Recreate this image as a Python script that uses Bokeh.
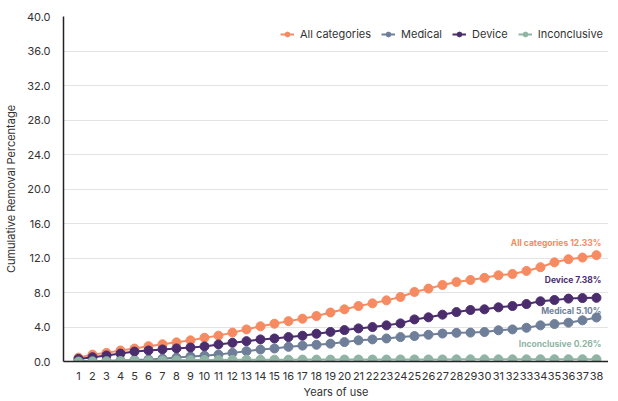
from bokeh.plotting import figure
from bokeh.models import ColumnDataSource, FixedTicker, NumeralTickFormatter, Range1d, Legend, LegendItem
from bokeh.core.properties import value
from bokeh.embed import file_html
from bokeh.resources import INLINE

years = list(range(1, 39))

all_categories = [0.45, 0.80, 1.00, 1.28, 1.50, 1.78, 2.00, 2.22, 2.45, 2.75,
                  3.00, 3.35, 3.72, 4.08, 4.38, 4.68, 4.96, 5.27, 5.68, 6.05,
                  6.43, 6.74, 7.09, 7.48, 8.06, 8.45, 8.87, 9.22, 9.45, 9.70,
                  10.00, 10.15, 10.50, 10.93, 11.50, 11.86, 12.05, 12.33]
medical = [0.02, 0.05, 0.08, 0.12, 0.16, 0.23, 0.33, 0.45, 0.58, 0.68,
           0.81, 1.00, 1.20, 1.38, 1.51, 1.70, 1.84, 1.94, 2.07, 2.25,
           2.45, 2.56, 2.67, 2.83, 2.95, 3.10, 3.24, 3.32, 3.35, 3.42,
           3.62, 3.72, 3.91, 4.19, 4.34, 4.50, 4.77, 5.10]
device = [0.30, 0.50, 0.70, 0.92, 1.15, 1.28, 1.40, 1.52, 1.62, 1.75,
          1.98, 2.17, 2.36, 2.56, 2.67, 2.83, 2.99, 3.22, 3.43, 3.64,
          3.84, 3.99, 4.19, 4.42, 4.88, 5.12, 5.43, 5.73, 5.97, 6.05,
          6.28, 6.43, 6.66, 6.98, 7.13, 7.29, 7.35, 7.38]
inconclusive = [0.00, 0.02, 0.04, 0.06, 0.08, 0.10, 0.12, 0.14, 0.16, 0.17,
                0.18, 0.19, 0.20, 0.20, 0.21, 0.21, 0.22, 0.22, 0.22, 0.23,
                0.23, 0.23, 0.23, 0.24, 0.24, 0.24, 0.24, 0.25, 0.25, 0.25,
                0.25, 0.25, 0.25, 0.26, 0.26, 0.26, 0.26, 0.26]

series_names = ["All categories", "Medical", "Device", "Inconclusive"]
series_values = [all_categories, medical, device, inconclusive]
series_colors = ["#F68B62", "#6F7F99", "#4B2D6E", "#90B4A4"]
end_label_offsets = [-12, -7, -18, -15]

y_ticks = [0, 4, 8, 12, 16, 20, 24, 28, 32, 36, 40]

FONT = "Inter"

p = figure(output_backend="svg", toolbar_location=None,
           frame_width=545, frame_height=345,
           min_border_left=57, min_border_top=16, min_border_right=0, min_border_bottom=10,
           x_range=Range1d(-0.07, 38.86), y_range=Range1d(0, 40))
p.outline_line_color = None
p.background_fill_color = "white"

items = []
for name, vals, color in zip(series_names, series_values, series_colors):
    src = ColumnDataSource(dict(x=years, y=vals))
    r1 = p.line("x", "y", source=src, line_color=color, line_width=2)
    r2 = p.scatter("x", "y", source=src, size=9, fill_color=color, line_color=color)
    items.append(LegendItem(label=name, renderers=[r1, r2]))

for name, vals, color, off in zip(series_names, series_values, series_colors, end_label_offsets):
    p.text(x=[years[-1]], y=[vals[-1]], text=[f"{name} {vals[-1]:.2f}%"],
           text_align="right", text_baseline="middle", x_offset=5, y_offset=off,
           text_color=color, text_font=value(FONT), text_font_size="8.5px",
           text_font_style="bold")

legend = Legend(items=items, orientation="horizontal", location=(217, 320),
                border_line_color=None, background_fill_alpha=0,
                label_text_font=FONT, label_text_font_size="11px", label_text_color="#333333",
                glyph_width=14, glyph_height=12, spacing=10, label_standoff=6,
                padding=0, margin=0)
p.add_layout(legend)

p.xaxis.ticker = FixedTicker(ticks=years)
p.yaxis.ticker = FixedTicker(ticks=y_ticks)
p.yaxis.formatter = NumeralTickFormatter(format="0.0")
p.xaxis.axis_label = "Years of use"
p.yaxis.axis_label = "Cumulative Removal Percentage"
for ax in (p.xaxis, p.yaxis):
    ax.axis_line_color = "#222222"
    ax.axis_line_width = 1.5
    ax.major_tick_line_color = None
    ax.minor_tick_line_color = None
    ax.major_tick_out = 0
    ax.major_tick_in = 0
    ax.minor_tick_out = 0
    ax.minor_tick_in = 0
    ax.major_label_text_font = FONT
    ax.major_label_text_font_size = "11px"
    ax.major_label_text_color = "#333333"
    ax.axis_label_text_font = FONT
    ax.axis_label_text_font_size = "11px"
    ax.axis_label_text_font_style = "normal"
    ax.axis_label_text_color = "#333333"
p.xaxis.major_label_standoff = 10
p.xaxis.axis_label_standoff = 2
p.yaxis.major_label_standoff = 13
p.yaxis.axis_label_standoff = 6

p.xgrid.grid_line_color = None
p.ygrid.grid_line_color = "#E3E3E3"
p.ygrid.grid_line_width = 1

open("out.html", "w").write(file_html(p, INLINE))
